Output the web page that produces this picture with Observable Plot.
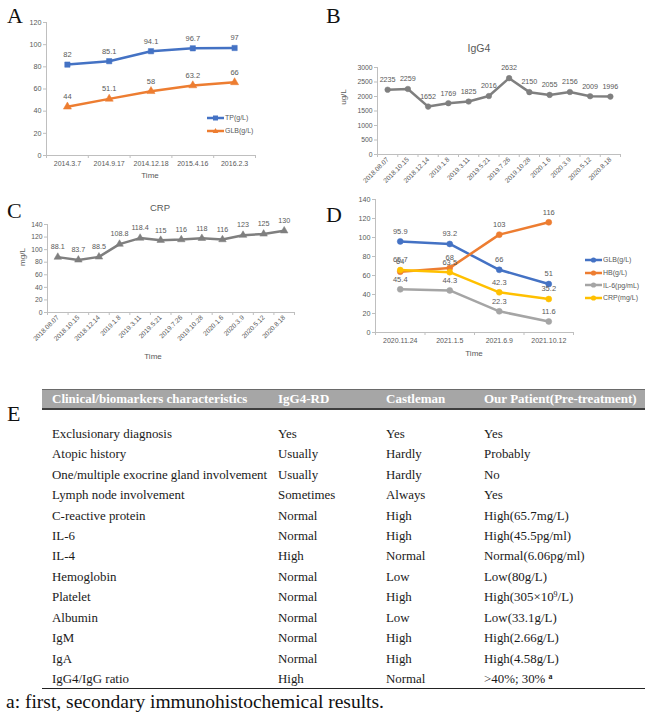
<!DOCTYPE html>
<html>
<head>
<meta charset="utf-8">
<script src="https://cdn.jsdelivr.net/npm/d3@7"></script>
<script src="https://cdn.jsdelivr.net/npm/@observablehq/plot@0.6"></script>
<style>
  html, body { margin:0; padding:0; background:#fff; }
  #root { position:relative; width:650px; height:715px; overflow:hidden; font-family:"Liberation Sans", Arial, sans-serif; }
  .abs { position:absolute; }
  .plab { position:absolute; font-family:"Liberation Serif", "Times New Roman", serif; font-size:22px; line-height:22px; color:#111; }
  .ctitle { position:absolute; color:#595959; transform:translate(-50%,-50%); white-space:nowrap; }
  .leg { position:absolute; font-size:7px; color:#595959; }
  .leg div { display:flex; align-items:center; height:12.7px; white-space:nowrap; }
  .leg svg { margin-right:1px; }
  .tbl { position:absolute; font-family:"Liberation Serif", "Times New Roman", serif; }
  .row { position:relative; height:20.45px; line-height:20.45px; font-size:12.9px; color:#1a1a1a; }
  .row span, .hdr span { position:absolute; white-space:nowrap; }
  sup { font-size:0.62em; line-height:0; vertical-align:0.55em; }
  .hdr { position:absolute; left:42px; width:603px; top:389px; height:18px; background:#a6a6a6; border-top:1px solid #6a6a6a; border-bottom:2px solid #3f3f3f; font-family:"Liberation Serif", "Times New Roman", serif; font-weight:bold; color:#fff; font-size:13px; line-height:18px; }
</style>
</head>
<body>
<div id="root"></div>
<script>
// ---------- DATA ----------
const aDates = ["2014.3.7","2014.9.17","2014.12.18","2015.4.16","2016.2.3"];
const aTP = [82, 85.1, 94.1, 96.7, 97];
const aGLB = [44, 51.1, 58, 63.2, 66];

const bcDates = ["2018.08.07","2018.10.15","2018.12.14","2019.1.8","2019.3.11","2019.5.21","2019.7.26","2019.10.28","2020.1.6","2020.3.9","2020.5.12","2020.8.18"];
const bIgG4 = [2235, 2259, 1652, 1769, 1825, 2016, 2632, 2150, 2055, 2156, 2009, 1996];
const cCRP = [88.1, 83.7, 88.5, 108.8, 118.4, 115, 116, 118, 116, 123, 125, 130];

const dDates = ["2020.11.24","2021.1.5","2021.6.9","2021.10.12"];
const dGLB = [95.9, 93.2, 66, 51];
const dHB = [64, 68, 103, 116];
const dIL6 = [45.4, 44.3, 22.3, 11.6];
const dCRP = [65.7, 63.5, 42.3, 35.2];

const tblHeader = ["Clinical/biomarkers characteristics", "IgG4-RD", "Castleman", "Our Patient(Pre-treatment)"];
const tblChar = ["Exclusionary diagnosis","Atopic history","One/multiple exocrine gland involvement","Lymph node involvement","C-reactive protein","IL-6","IL-4","Hemoglobin","Platelet","Albumin","IgM","IgA","IgG4/IgG ratio"];
const tblIgG4RD = ["Yes","Usually","Usually","Sometimes","Normal","Normal","High","Normal","Normal","Normal","Normal","Normal","High"];
const tblCastleman = ["Yes","Hardly","Hardly","Always","High","High","Normal","Low","High","Low","High","High","Normal"];
const tblPatient = ["Yes","Probably","No","Yes","High(65.7mg/L)","High(45.5pg/ml)","Normal(6.06pg/ml)","Low(80g/L)","High(305×10<sup>9</sup>/L)","Low(33.1g/L)","High(2.66g/L)","High(4.58g/L)",">40%; 30% <sup><b>a</b></sup>"];
const footnote = "a: first, secondary immunohistochemical results.";

// ---------- HELPERS ----------
const root = document.getElementById("root");
const TXT = "#595959", AX = "#bfbfbf";
function place(node, left, top) {
  node.style.position = "absolute"; node.style.left = left + "px"; node.style.top = top + "px";
  root.appendChild(node); return node;
}
function html(cls, text, left, top, extra = "") {
  const d = document.createElement("div");
  d.className = cls; d.innerHTML = text;
  d.style.cssText += `left:${left}px;top:${top}px;` + extra;
  root.appendChild(d); return d;
}
function chart({labels, series, yDomain, yStep, width, height, mt, mr, mb, ml, rotate = 0, xFont = 7, yFont = 7.2, vFont = 7.5, r = 3}) {
  const n = labels.length;
  const idx = d3.range(n);
  const bounds = d3.range(n + 1).map(i => i - 0.5);
  const yt = d3.range(yDomain[0], yDomain[1] + yStep / 2, yStep);
  const marks = [
    Plot.ruleY([yDomain[0]], {stroke: AX, strokeWidth: 1}),
    Plot.ruleX([-0.5], {stroke: AX, strokeWidth: 1}),
    Plot.axisY(yt, {tickSize: 3, tickPadding: 2, stroke: AX, fill: TXT, fontSize: yFont, label: null, tickFormat: d => String(d)}),
    Plot.axisX(bounds, {tickSize: 3, tickFormat: () => "", stroke: AX, label: null}),
    Plot.axisX(idx, {tickSize: 0, tickPadding: rotate ? 4 : 6, tickRotate: rotate, tickFormat: i => labels[i], fill: TXT, fontSize: xFont, label: null})
  ];
  for (const s of series) {
    const pts = s.values.map((v, i) => ({i, v}));
    marks.push(Plot.line(pts, {x: "i", y: "v", stroke: s.color, strokeWidth: 2.5}));
    marks.push(Plot.dot(pts, {x: "i", y: "v", symbol: s.symbol, fill: s.color, stroke: s.color, strokeWidth: 0.5, r}));
    marks.push(Plot.text(pts, {x: "i", y: "v", text: d => String(d.v), dy: -10, fill: TXT, fontSize: vFont}));
  }
  return Plot.plot({
    width, height, marginTop: mt, marginRight: mr, marginBottom: mb, marginLeft: ml,
    style: {fontFamily: '"Liberation Sans", Arial, sans-serif', background: "transparent", overflow: "visible"},
    x: {type: "linear", domain: [-0.5, n - 0.5]},
    y: {domain: yDomain},
    marks
  });
}
function legend(items, left, top) {
  const box = document.createElement("div");
  box.className = "leg";
  for (const it of items) {
    const row = document.createElement("div");
    const sym = it.symbol === "square" ? `<rect x="6" y="1.5" width="5" height="5" fill="${it.color}"/>`
      : it.symbol === "triangle" ? `<path d="M8.5,1 L11.3,6 L5.7,6 Z" fill="${it.color}"/>`
      : `<circle cx="8.5" cy="4" r="2.6" fill="${it.color}"/>`;
    row.innerHTML = `<svg width="17" height="8"><line x1="0" y1="4" x2="17" y2="4" stroke="${it.color}" stroke-width="2.5"/>${sym}</svg><span>${it.name}</span>`;
    box.appendChild(row);
  }
  return place(box, left, top);
}

// ---------- PANEL A ----------
place(chart({
  labels: aDates,
  series: [
    {values: aTP, color: "#4472C4", symbol: "square"},
    {values: aGLB, color: "#ED7D31", symbol: "triangle"}
  ],
  yDomain: [0, 120], yStep: 20, width: 320, height: 190, mt: 22, mr: 65, mb: 35, ml: 46
}), 0, 0);
legend([{name: "TP(g/L)", color: "#4472C4", symbol: "square"}, {name: "GLB(g/L)", color: "#ED7D31", symbol: "triangle"}], 207, 111.5);
html("ctitle", "Time", 150, 175, "font-size:8px;");
html("plab", "A", 7, 5);

// ---------- PANEL B ----------
place(chart({
  labels: bcDates,
  series: [{values: bIgG4, color: "#7F7F7F", symbol: "circle"}],
  yDomain: [0, 3000], yStep: 500, width: 330, height: 200, mt: 67, mr: 30, mb: 46, ml: 57,
  rotate: -45, xFont: 6.6, yFont: 6.8, vFont: 7.2, r: 2.8
}), 320, 0);
html("ctitle", "IgG4", 479, 48, "font-size:10.5px;");
html("ctitle", "ug/L", 343, 97, "font-size:8px;transform:translate(-50%,-50%) rotate(-90deg);");
html("plab", "B", 326, 5);

// ---------- PANEL C ----------
place(chart({
  labels: bcDates,
  series: [{values: cCRP, color: "#7F7F7F", symbol: "triangle"}],
  yDomain: [0, 140], yStep: 20, width: 320, height: 180, mt: 34, mr: 26, mb: 58, ml: 47,
  rotate: -45, xFont: 6.6, yFont: 6.8, vFont: 7.2, r: 2.8
}), 0, 190);
html("ctitle", "CRP", 160, 207, "font-size:9.5px;");
html("ctitle", "mg/L", 22, 257, "font-size:8px;transform:translate(-50%,-50%) rotate(-90deg);");
html("ctitle", "Time", 153, 356, "font-size:8px;");
html("plab", "C", 7, 200);

// ---------- PANEL D ----------
const dSeries = [
  {name: "GLB(g/L)", values: dGLB, color: "#4472C4", symbol: "circle"},
  {name: "HB(g/L)", values: dHB, color: "#ED7D31", symbol: "circle"},
  {name: "IL-6(pg/mL)", values: dIL6, color: "#A5A5A5", symbol: "circle"},
  {name: "CRP(mg/L)", values: dCRP, color: "#FFC000", symbol: "circle"}
];
place(chart({
  labels: dDates, series: dSeries,
  yDomain: [0, 140], yStep: 20, width: 330, height: 180, mt: 9, mr: 77, mb: 38, ml: 55
}), 320, 190);
legend(dSeries, 585, 253.5);
html("ctitle", "Time", 474, 353, "font-size:8px;");
html("plab", "D", 326, 204);

// ---------- PANEL E (table) ----------
html("plab", "E", 7, 403);
const colX = [10, 236, 344, 442];
const hdr = document.createElement("div");
hdr.className = "hdr";
hdr.innerHTML = tblHeader.map((h, k) => `<span style="left:${colX[k]}px">${h}</span>`).join("");
root.appendChild(hdr);
const tbl = document.createElement("div");
tbl.className = "tbl";
tbl.style.cssText = "left:42px;top:423.8px;width:603px;";
tblChar.forEach((c, i) => {
  const row = document.createElement("div");
  row.className = "row";
  const cells = [c, tblIgG4RD[i], tblCastleman[i], tblPatient[i]];
  row.innerHTML = cells.map((t, k) => `<span style="left:${colX[k]}px">${t}</span>`).join("");
  tbl.appendChild(row);
});
root.appendChild(tbl);
html("abs", "", 42, 688, "width:603px;height:0;border-top:1.6px solid #222;");
html("abs", footnote, 6, 691, 'font-family:"Liberation Serif","Times New Roman",serif;font-size:19.5px;line-height:22px;color:#111;white-space:nowrap;');
</script>
</body>
</html>
